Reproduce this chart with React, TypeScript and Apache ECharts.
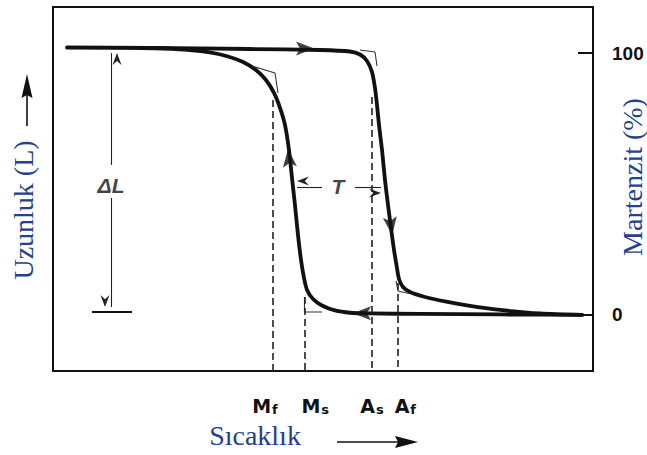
import React, { useEffect, useRef } from "react";
import * as echarts from "echarts";

// Temperature in arbitrary units (0–100), martensite fraction in %.
const heatingT = [2.59, 17.96, 36.48, 49.44, 55.0, 56.85, 58.15, 59.07, 59.63, 60.0, 60.37, 60.93, 61.48, 62.04, 62.59, 63.15, 63.7, 64.07, 64.81, 66.11, 68.89, 72.59, 77.22, 82.78, 90.19, 97.96];
const heatingM = [102.14, 101.95, 101.57, 101.18, 100.61, 99.47, 96.98, 92.78, 86.67, 80.18, 72.55, 63.0, 51.55, 42.0, 33.22, 24.82, 17.95, 13.75, 10.69, 8.78, 6.87, 5.15, 3.44, 1.91, 0.57, 0];

const coolingT = [97.96, 82.78, 67.96, 58.7, 55.0, 52.22, 49.81, 48.15, 47.04, 46.48, 45.93, 45.37, 44.81, 44.26, 43.7, 42.96, 42.04, 40.93, 39.44, 37.59, 35.19, 32.41, 29.07, 25.37, 20.74, 16.11];
const coolingM = [0, 0.19, 0.38, 0.57, 0.84, 1.72, 3.63, 6.11, 9.55, 14.13, 21.0, 30.55, 42.0, 52.31, 63.0, 72.55, 79.04, 84.77, 89.73, 93.55, 96.6, 98.7, 100.23, 101.18, 101.76, 101.95];

// Transformation temperatures and where each guide line leaves the curve
const transitionNames = ["Mf", "Ms", "As", "Af"];
const transitionT = [40.65, 46.57, 58.98, 63.8];
const transitionFrom = [82.1, 6.9, 83.2, 12.2];

// Tangent constructions at the four knees
const kneeMf = [[36.85, 95.07], [41.11, 92.4], [41.67, 84.77]];
const kneeAs = [[56.85, 101.18], [59.63, 100.42], [60.0, 95.07]];
const kneeMs = [[46.57, 6.87], [46.57, 1.15], [49.81, 1.15]];
const kneeAf = [[63.52, 12.98], [63.89, 9.16], [65.93, 8.21]];

// Direction arrows on the loop (position and heading in degrees)
const arrowT = [46.67, 62.59, 57.22, 43.7];
const arrowM = [101.76, 33.98, 0.69, 59.95];
const arrowHeading = [-90, 187.6, 90, 6];

// Length change span ΔL and hysteresis width T
const deltaLT = 10.74;
const deltaLTop = 100;
const deltaLBottom = 3.05;
const deltaLGap = [57.3, 44.7];
const deltaLBase = [7.22, 14.63, 1.15];
const hysteresisM = 48.87;
const hysteresisArrows = [[49.81, 45.19], [55.93, 60.74]];
const hysteresisLabelT = 52.78;
const deltaLLabelM = 49.6;

const martensiteTicks = [0, 100];

const INK = "#111111";
const BLUE = "#24408e";
const ARROW = "path://M6,0 L12,16 L6,12.5 L0,16 Z";
const BARB = "path://M5,0 L10,10 L5,6.5 L0,10 Z";

// horizontal nudge of each temperature label, in axis units
const labelNudge = [-1.4, 2.0, 0.1, 1.45];

export default function App() {
  const ref = useRef<HTMLDivElement>(null);

  useEffect(() => {
    if (!ref.current) return;
    const chart = echarts.init(ref.current, undefined, { renderer: "svg" });

    const labelAt = transitionT.map((t, i) => t + labelNudge[i]);
    const rich = {
      m: {
        fontFamily: "DejaVu Sans", fontWeight: "bold", fontSize: 19, lineHeight: 19,
        verticalAlign: "top", color: INK,
      },
      s: {
        fontFamily: "DejaVu Sans", fontWeight: "bold", fontSize: 13, lineHeight: 13,
        verticalAlign: "top", color: INK, padding: [7, 0, 0, 1],
      },
    };

    const pairs = (xs: number[], ys: number[]) => xs.map((x, i) => [x, ys[i]]);
    const thin = { color: "#222", width: 1.1 };

    const option: any = {
      animation: false,
      backgroundColor: "#ffffff",
      grid: {
        left: 53, top: 7, width: 540, height: 364, show: true,
        borderColor: INK, borderWidth: 2, outerBoundsMode: "none",
      },
      xAxis: {
        type: "value", min: 0, max: 100,
        name: "Sıcaklık", nameLocation: "middle", nameGap: 50, nameMoveOverlap: false,
        nameTextStyle: { fontFamily: "Liberation Serif", fontSize: 28, color: BLUE, padding: [0, 136, 0, 0] },
        axisLine: { show: false }, axisTick: { show: false }, splitLine: { show: false },
        axisLabel: {
          customValues: labelAt, margin: 25, rich, hideOverlap: false,
          formatter: (v: number) => {
            let i = 0;
            labelAt.forEach((t, k) => { if (Math.abs(t - v) < Math.abs(labelAt[i] - v)) i = k; });
            const n = transitionNames[i];
            return `{m|${n[0]}}{s|${n.slice(1)}}`;
          },
        },
      },
      yAxis: [
        {
          type: "value", min: -21.4, max: 117.6, position: "left",
          name: "Uzunluk (L)", nameLocation: "middle", nameRotate: 90, nameGap: 16, nameMoveOverlap: false,
          nameTextStyle: { fontFamily: "Liberation Serif", fontSize: 28, color: BLUE, padding: [0, 42, 0, 0] },
          axisLine: { show: false }, axisTick: { show: false }, axisLabel: { show: false }, splitLine: { show: false },
        },
        {
          type: "value", min: -21.4, max: 117.6, position: "right",
          name: "Martenzit (%)", nameLocation: "middle", nameRotate: 90, nameGap: 25, nameMoveOverlap: false,
          nameTextStyle: { fontFamily: "Liberation Serif", fontSize: 28, color: BLUE, padding: [0, 0, 0, 24] },
          axisLine: { show: false }, splitLine: { show: false },
          axisTick: { show: true, inside: true, length: 15, customValues: martensiteTicks, lineStyle: { color: INK, width: 2 } },
          axisLabel: {
            customValues: martensiteTicks, margin: 19, color: INK,
            fontFamily: "Liberation Sans", fontWeight: "bold", fontSize: 19,
          },
        },
      ],
      graphic: [
        { type: "line", shape: { x1: 27, y1: 126, x2: 27, y2: 94 }, style: { stroke: INK, lineWidth: 1.6 } },
        { type: "polygon", shape: { points: [[27, 74], [32.5, 98], [27, 95], [21.5, 98]] }, style: { fill: INK } },
        { type: "line", shape: { x1: 337, y1: 442, x2: 400, y2: 442 }, style: { stroke: INK, lineWidth: 1.6 } },
        { type: "polygon", shape: { points: [[418, 442], [395, 436], [398, 442], [395, 448]] }, style: { fill: INK } },
      ],
      series: [
        {
          name: "heating", type: "line", data: pairs(heatingT, heatingM), yAxisIndex: 1,
          showSymbol: false, smooth: 0.25, silent: true,
          lineStyle: { color: INK, width: 3.8, cap: "round", join: "round" },
        },
        {
          name: "cooling", type: "line", data: pairs(coolingT, coolingM), yAxisIndex: 1,
          showSymbol: false, smooth: 0.25, silent: true,
          lineStyle: { color: INK, width: 3.8, cap: "round", join: "round" },
        },
        ...[kneeMf, kneeAs, kneeMs, kneeAf].map((k) => ({
          type: "line", data: k, yAxisIndex: 1, showSymbol: false, silent: true,
          lineStyle: { color: "#333", width: 1.1 },
        })),
        {
          type: "line", data: [[deltaLBase[0], deltaLBase[2]], [deltaLBase[1], deltaLBase[2]]], yAxisIndex: 1,
          showSymbol: false, silent: true, lineStyle: { color: INK, width: 2 },
        },
        {
          name: "guides", type: "line", data: [], yAxisIndex: 1, silent: true,
          markLine: {
            silent: true, symbol: ["none", "none"], label: { show: false },
            lineStyle: { color: "#222", width: 1.6, type: [7, 4] },
            data: transitionT.map((t, i) => [{ coord: [t, transitionFrom[i]] }, { coord: [t, -21.4] }]),
          },
        },
        {
          name: "dimensions", type: "line", data: [], yAxisIndex: 1, silent: true,
          markLine: {
            silent: true, symbol: ["none", BARB], symbolSize: [9, 12], symbolOffset: [0, 6],
            label: { show: false }, lineStyle: { ...thin, type: "solid" },
            data: [
              [{ coord: [deltaLT, deltaLGap[0]] }, { coord: [deltaLT, deltaLTop] }],
              [{ coord: [deltaLT, deltaLGap[1]] }, { coord: [deltaLT, deltaLBottom] }],
              [{ coord: [hysteresisArrows[0][0], hysteresisM] }, { coord: [hysteresisArrows[0][1], hysteresisM] }],
              [{ coord: [hysteresisArrows[1][0], hysteresisM] }, { coord: [hysteresisArrows[1][1], hysteresisM] }],
            ],
          },
        },
        {
          name: "direction", type: "scatter", yAxisIndex: 1, silent: true,
          symbol: ARROW, symbolSize: [14, 18],
          itemStyle: { color: INK },
          data: arrowT.map((t, i) => ({ value: [t, arrowM[i]], symbolRotate: arrowHeading[i] })),
        },
        {
          name: "labels", type: "scatter", yAxisIndex: 1, silent: true, symbolSize: 0,
          label: {
            show: true, position: "inside", formatter: "{b}", color: INK,
            fontFamily: "Liberation Sans", fontStyle: "italic", fontWeight: "bold", fontSize: 21,
          },
          data: [
            { value: [hysteresisLabelT, hysteresisM], name: "T" },
            { value: [deltaLT, deltaLLabelM], name: "ΔL" },
          ],
        },
      ],
    };

    chart.setOption(option);
    return () => chart.dispose();
  }, []);

  return (
    <div
      ref={ref}
      style={{ position: "fixed", left: 0, top: 0, width: 647, height: 455, background: "#fff" }}
    />
  );
}
